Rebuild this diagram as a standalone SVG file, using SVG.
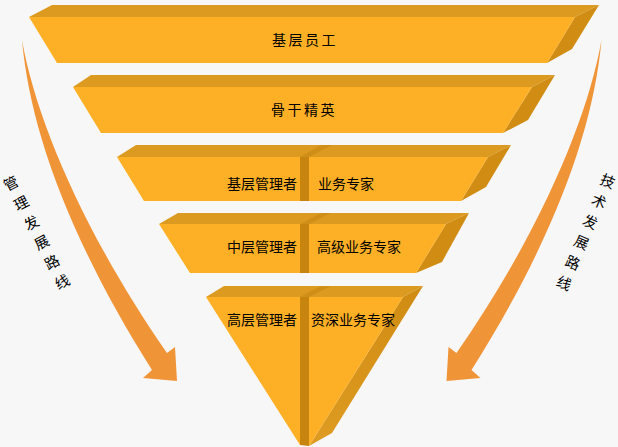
<svg xmlns="http://www.w3.org/2000/svg" width="618" height="447" viewBox="0 0 618 447">
<defs>
<linearGradient id="sideGrad5" x1="0" y1="0" x2="0" y2="1">
<stop offset="0" stop-color="#D08B12"/>
<stop offset="1" stop-color="#DE9C22"/>
</linearGradient>
</defs>
<style>
.front{fill:#FDB025}
.top{fill:#DC9A20}
.side{fill:#D18D13}
.div{fill:#C7840F}
.divtop{fill:#CF8E17}
.arrow{fill:#F09438}
.lbl{font-family:"Noto Sans CJK SC","Noto Sans CJK JP",sans-serif;font-size:14px;fill:#000}
.vlbl{font-family:"Noto Sans CJK SC","Noto Sans CJK JP",sans-serif;font-size:14.5px;fill:#000}
</style>
<rect width="618" height="447" fill="#F7F7F7"/>

<g id="connectors">
<path id="arrow-left" class="arrow" d="M22,40 C36,120 85,235 167,353 L175,347 L177,381 L143,378 L152,370 C70,240 30,130 22,40 Z"/>
<path id="arrow-right" class="arrow" transform="matrix(-1 0 0 1 623.5 0)" d="M22,40 C36,120 85,235 167,353 L175,347 L177,381 L143,378 L152,370 C70,240 30,130 22,40 Z"/>
</g>

<g id="layer1">
<polygon class="top" points="52,5 599,5 575,17 29,17"/>
<polygon class="side" points="575,17 599,5 572,49 547,63"/>
<polygon class="front" points="29,17 575,17 547,63 57,63"/>
<text class="lbl" x="272" y="45" letter-spacing="2.5">基层员工</text>
</g>

<g id="layer2">
<polygon class="top" points="91,75 555,75 532,87 73,87"/>
<polygon class="side" points="532,87 555,75 528,120 503,133"/>
<polygon class="front" points="73,87 532,87 503,133 101,133"/>
<text class="lbl" x="271" y="115" letter-spacing="2.5">骨干精英</text>
</g>

<g id="layer3">
<polygon class="top" points="136,145 511,145 488,157 117,157"/>
<polygon class="divtop" points="300,157 309,157 332,145 321,145"/>
<polygon class="side" points="488,157 511,145 486,187 461,201"/>
<polygon class="front" points="117,157 488,157 461,201 144,201"/>
<rect class="div" x="300" y="157" width="9" height="44"/>
<text class="lbl" x="227" y="189">基层管理者</text>
<text class="lbl" x="318" y="189">业务专家</text>
</g>

<g id="layer4">
<polygon class="top" points="178,213 469,213 446,224 159,224"/>
<polygon class="divtop" points="300,224 309,224 331,213 321,213"/>
<polygon class="side" points="446,224 469,213 442,262 416,273"/>
<polygon class="front" points="159,224 446,224 416,273 190,273"/>
<rect class="div" x="300" y="224" width="9" height="49"/>
<text class="lbl" x="227" y="252">中层管理者</text>
<text class="lbl" x="317" y="252">高级业务专家</text>
</g>

<g id="layer5">
<polygon class="top" points="224,286 423,286 403,297 206,297"/>
<polygon class="divtop" points="300,297 309,297 331,286 321,286"/>
<polygon fill="url(#sideGrad5)" points="403,297 423,286 332,433 309,446"/>
<polygon class="front" points="206,297 300,297 300,445"/>
<polygon class="front" points="309,297 403,297 309,446"/>
<polygon class="div" points="300,297 309,297 309,446 300,445"/>
<text class="lbl" x="227" y="325">高层管理者</text>
<text class="lbl" x="311" y="325">资深业务专家</text>
</g>

<g id="label-left">
<text class="vlbl" transform="translate(36.5,232.5) rotate(-27.5)" text-anchor="middle" x="0 0 0 0 0 0" y="-50 -27.8 -5.6 16.6 38.8 61">管理发展路线</text>
</g>
<g id="label-right">
<text class="vlbl" transform="translate(586,232) rotate(23.3)" text-anchor="middle" x="0 0 0 0 0 0" y="-50 -27.8 -5.6 16.6 38.8 61">技术发展路线</text>
</g>
</svg>
